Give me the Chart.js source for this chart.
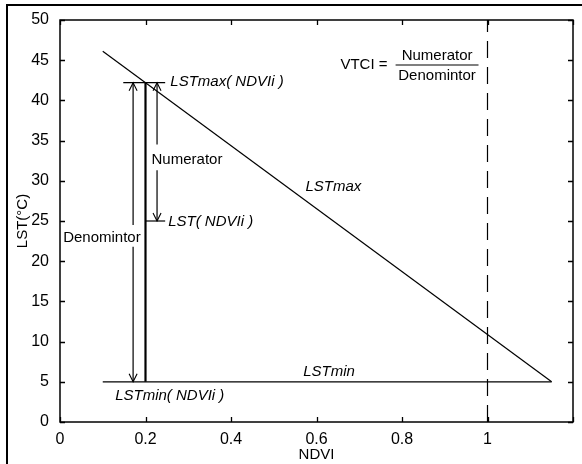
<!DOCTYPE html>
<html>
<head>
<meta charset="utf-8">
<script src="https://cdn.jsdelivr.net/npm/chart.js@4.4.1/dist/chart.umd.min.js"></script>
<style>
  html, body { margin: 0; padding: 0; background: #fff; }
  #wrap { position: relative; width: 582px; height: 464px; overflow: hidden; }
  #frame { position: absolute; left: 6px; top: 4px; right: -4px; bottom: -4px;
           border-left: 2px solid #000; border-top: 2px solid #000; pointer-events: none; }
</style>
</head>
<body>
<div id="wrap">
  <canvas id="grafico" width="582" height="464"></canvas>
  <div id="frame"></div>
</div>
<script>
// 🔹 Dados (NDVI x LST)
const lstMaxX = [0.1, 1.15];
const lstMaxY = [46.1, 5];
const lstMinX = [0.1, 1.15];
const lstMinY = [5, 5];
const ndviI = 0.2;          // coluna NDVIi
const lstMaxI = 42.2;       // LSTmax(NDVIi)
const lstI = 25;            // LST(NDVIi)
const lstMinI = 5;          // LSTmin(NDVIi)
const capTopX = [0.148, 0.246];
const capLstX = [0.2, 0.246];
const ndviLimite = 1;       // linha tracejada

// setas: x, início, fim (a ponta fica no fim)
const setaX = [0.171, 0.171, 0.227, 0.227];
const setaDe = [24.5, 21.8, 34.5, 31.3];
const setaAte = [42.2, 5, 42.2, 25];

// fração do VTCI
const fracX = [0.785, 0.979];
const fracY = 44.4;

// textos
const textos = ['LSTmax( NDVIi )', 'LST( NDVIi )', 'LSTmin( NDVIi )', 'LSTmax', 'LSTmin',
                'Numerator', 'Denomintor', 'VTCI =', 'Numerator', 'Denomintor'];
const textoX = [0.258, 0.253, 0.129, 0.574, 0.569, 0.297, 0.098, 0.656, 0.882, 0.882];
const textoY = [42.3, 24.9, 3.2, 29.2, 6.2, 32.6, 22.9, 44.4, 45.5, 43.0];
const textoItalico = [true, true, true, true, true, false, false, false, false, false];
const textoCentro = [false, false, false, false, false, true, true, false, true, true];

const xTicks = [0, 0.2, 0.4, 0.6, 0.8, 1, 1.2];
const yTicks = [0, 5, 10, 15, 20, 25, 30, 35, 40, 45, 50];

const fonte = "'Liberation Sans', Arial, sans-serif";

function pontos(xs, ys) {
  return xs.map((v, i) => ({ x: v, y: Array.isArray(ys) ? ys[i] : ys }));
}

function linha(data, extra) {
  return Object.assign({
    data: data, showLine: true, borderColor: '#000', borderWidth: 1.2,
    pointRadius: 0, fill: false, tension: 0
  }, extra || {});
}

const datasets = [
  linha(pontos(lstMaxX, lstMaxY)),
  linha(pontos(lstMinX, lstMinY)),
  linha(pontos([ndviI, ndviI], [lstMinI, lstMaxI]), { borderWidth: 2.2 }),
  linha(pontos(capTopX, lstMaxI)),
  linha(pontos(capLstX, lstI)),
  linha(pontos([ndviLimite, ndviLimite], [0, 50]), { borderDash: [17, 9] }),
  linha(pontos(fracX, fracY))
];
setaX.forEach((sx, i) => {
  datasets.push(linha(pontos([sx, sx], [setaDe[i], setaAte[i]])));
});

// 🔹 Caixa, ticks internos, pontas das setas e textos
const moldura = {
  id: 'moldura',
  afterDatasetsDraw(chart) {
    const { ctx, chartArea: a, scales: { x, y } } = chart;
    ctx.save();
    ctx.strokeStyle = '#000';
    ctx.lineWidth = 1.5;
    ctx.strokeRect(a.left, a.top, a.right - a.left, a.bottom - a.top);

    ctx.lineWidth = 1.3;
    ctx.beginPath();
    xTicks.forEach(v => {
      const px = Math.round(x.getPixelForValue(v)) + 0.5;
      ctx.moveTo(px, a.bottom); ctx.lineTo(px, a.bottom - 5);
      ctx.moveTo(px, a.top); ctx.lineTo(px, a.top + 5);
    });
    yTicks.forEach(v => {
      const py = Math.round(y.getPixelForValue(v)) + 0.5;
      ctx.moveTo(a.left, py); ctx.lineTo(a.left + 5, py);
      ctx.moveTo(a.right, py); ctx.lineTo(a.right - 5, py);
    });
    ctx.stroke();

    // pontas abertas das setas
    ctx.lineWidth = 1.1;
    ctx.beginPath();
    setaX.forEach((sx, i) => {
      const px = x.getPixelForValue(sx);
      const py = y.getPixelForValue(setaAte[i]);
      const dir = setaAte[i] > setaDe[i] ? 1 : -1; // 1 = para cima
      ctx.moveTo(px - 4, py + dir * 8); ctx.lineTo(px, py); ctx.lineTo(px + 4, py + dir * 8);
    });
    ctx.stroke();

    ctx.fillStyle = '#000';
    ctx.textBaseline = 'middle';
    textos.forEach((t, i) => {
      ctx.font = (textoItalico[i] ? 'italic ' : '') + '15px ' + fonte;
      ctx.textAlign = textoCentro[i] ? 'center' : 'left';
      ctx.fillText(t, x.getPixelForValue(textoX[i]), y.getPixelForValue(textoY[i]));
    });
    ctx.restore();
  }
};

Chart.defaults.font.family = fonte;
Chart.defaults.color = '#000';

const grafico = new Chart(document.getElementById('grafico').getContext('2d'), {
  type: 'scatter',
  data: { datasets: datasets },
  options: {
    responsive: false,
    animation: false,
    layout: { padding: { left: 0, top: 20, right: 9, bottom: 0 } },
    plugins: { legend: { display: false }, tooltip: { enabled: false } },
    scales: {
      x: {
        type: 'linear', min: 0, max: 1.2,
        afterFit: s => { s.height = 42; },
        afterBuildTicks: s => { s.ticks = xTicks.map(v => ({ value: v })); },
        grid: { display: false }, border: { display: false },
        ticks: {
          padding: 0, font: { size: 16 }, maxRotation: 0, autoSkip: false,
          callback: v => (v > 1.1 ? '' : String(v))
        },
        title: { display: true, text: 'NDVI', font: { size: 15 }, padding: { top: 0, bottom: 0 } }
      },
      y: {
        type: 'linear', min: 0, max: 50,
        afterFit: s => { s.width = 60; },
        afterBuildTicks: s => { s.ticks = yTicks.map(v => ({ value: v })); },
        grid: { display: false }, border: { display: false },
        ticks: { padding: 3, font: { size: 16 }, autoSkip: false },
        title: { display: true, text: 'LST(°C)', font: { size: 15 }, padding: { top: 14, bottom: 0 } }
      }
    }
  },
  plugins: [moldura]
});
</script>
</body>
</html>
